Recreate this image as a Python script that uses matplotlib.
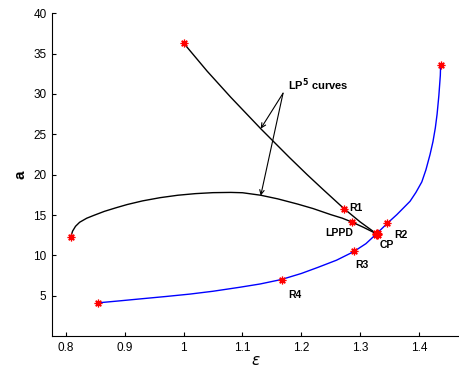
import matplotlib.pyplot as plt

plt.rcParams["font.family"] = ["Liberation Sans", "DejaVu Sans"]

# upper LP^5 curve (black), from the left end point down to CP
lp_upper_eps = [1.0, 1.04, 1.08, 1.131, 1.18, 1.21, 1.2365, 1.2725, 1.30, 1.328]
lp_upper_a = [36.3, 32.82, 29.6, 25.7, 22.12, 20.0, 18.2, 15.8, 14.15, 12.67]

# lower LP^5 curve (black), through LPPD to CP
lp_lower_eps = [0.808, 0.811, 0.816, 0.823, 0.835, 0.847, 0.865, 0.885, 0.904,
                0.93, 0.96, 0.99, 1.02, 1.05, 1.08, 1.10, 1.131, 1.16, 1.194,
                1.22, 1.25, 1.27, 1.287, 1.305, 1.328]
lp_lower_a = [12.3, 13.0, 13.6, 14.1, 14.6, 14.95, 15.45, 15.9, 16.3,
              16.75, 17.15, 17.45, 17.65, 17.77, 17.8, 17.76, 17.45, 17.0, 16.35,
              15.8, 15.05, 14.6, 14.1, 13.5, 12.67]

# blue curve
blue_eps = [0.854, 0.89, 0.926, 0.97, 1.011, 1.05, 1.096, 1.13, 1.166, 1.2,
            1.228, 1.26, 1.289, 1.31, 1.328, 1.346, 1.3626, 1.385, 1.395,
            1.405, 1.412, 1.419, 1.424, 1.428, 1.431, 1.434, 1.4365, 1.437]
blue_a = [4.11, 4.35, 4.6, 4.9, 5.2, 5.55, 6.05, 6.45, 7.0, 7.75,
          8.5, 9.4, 10.45, 11.45, 12.67, 13.95, 15.05, 16.7, 17.8,
          19.1, 20.6, 22.5, 24.1, 25.8, 27.5, 29.8, 32.3, 33.6]

# special points (red asterisks)
pts_eps = [1.0, 0.808, 0.854, 1.437, 1.273, 1.287, 1.346, 1.29, 1.167]
pts_a = [36.3, 12.3, 4.11, 33.6, 15.8, 14.1, 13.95, 10.5, 7.0]
cp = (1.328, 12.67)

labels = ["R1", "LPPD", "CP", "R2", "R3", "R4"]
label_eps = [1.2817, 1.2403, 1.334, 1.358, 1.292, 1.177]
label_a = [15.9, 12.75, 11.27, 12.5, 8.8, 5.1]

fig = plt.figure(figsize=(4.59, 3.69), dpi=100)
ax = fig.add_axes([0.1133, 0.0894, 0.887, 0.8745])

ax.plot(lp_upper_eps, lp_upper_a, color="black", lw=1.0)
ax.plot(lp_lower_eps, lp_lower_a, color="black", lw=1.0)
ax.plot(blue_eps, blue_a, color="blue", lw=1.0)

star = (8, 2, 0)
ax.plot(pts_eps, pts_a, ls="none", marker=star, ms=5.5, mec="red", mew=0.9)
ax.plot([cp[0]], [cp[1]], ls="none", marker=star, ms=7, mec="red", mew=1.5)

for txt, x, y in zip(labels, label_eps, label_a):
    ax.text(x, y, txt, fontsize=7.5, fontweight="bold", ha="left", va="center")

ax.text(1.177, 31.1, r"LP$^{\mathbf{5}}$ curves", fontsize=8, fontweight="bold",
        ha="left", va="center")
for tip in [(1.131, 25.7), (1.131, 17.4)]:
    ax.annotate("", xy=tip, xytext=(1.169, 30.1),
                arrowprops=dict(arrowstyle="->", color="black", lw=0.8,
                                shrinkA=0, shrinkB=0, mutation_scale=8))

ax.set_xlim(0.776, 1.4685)
ax.set_ylim(0, 40)
ax.set_xticks([0.8, 0.9, 1.0, 1.1, 1.2, 1.3, 1.4])
ax.set_xticklabels(["0.8", "0.9", "1", "1.1", "1.2", "1.3", "1.4"])
ax.set_yticks([5, 10, 15, 20, 25, 30, 35, 40])
ax.tick_params(direction="in", length=3, labelsize=8.5, pad=4)
ax.spines["top"].set_visible(False)
ax.spines["right"].set_visible(False)

ax.set_xlabel(r"$\epsilon$", fontsize=11, labelpad=0)
ax.set_ylabel("a", fontsize=11, fontweight="bold", labelpad=4)

fig.savefig("out.png", dpi=100)
